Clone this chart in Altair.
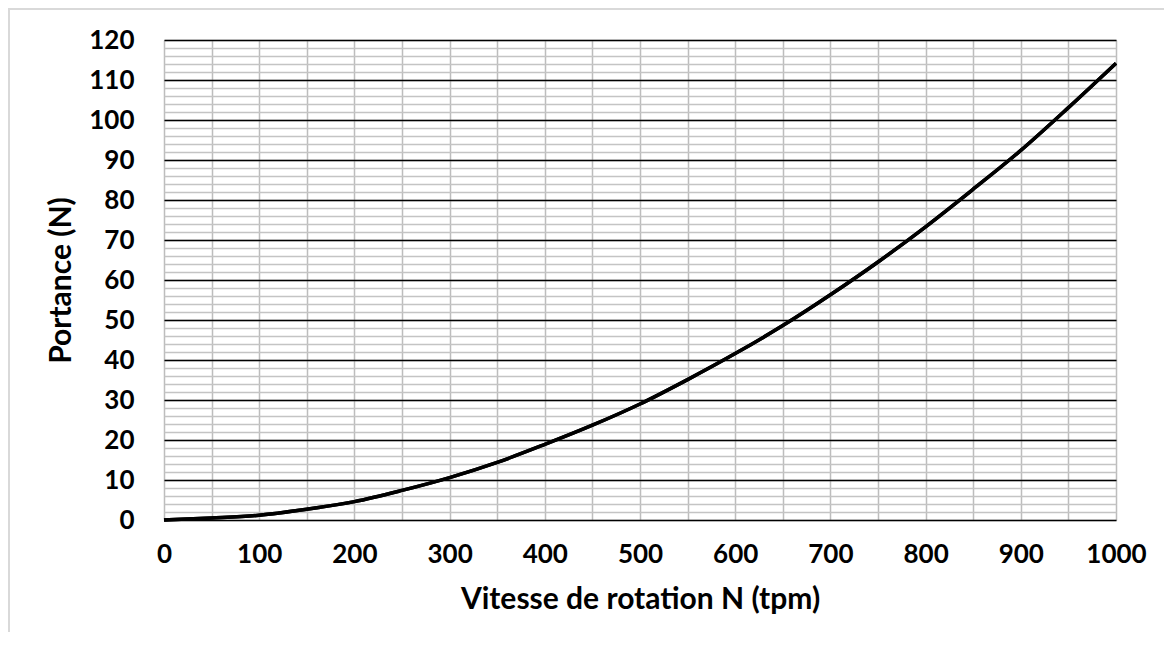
import altair as alt
import pandas as pd

# Data
vitesse = [0, 50, 100, 150, 200, 250, 300, 350, 400, 450, 500,
           550, 600, 650, 700, 750, 800, 850, 900, 950, 1000]
portance = [0.0, 0.5, 1.2, 2.7, 4.6, 7.4, 10.6, 14.4, 18.9, 23.7, 29.0,
            35.1, 41.6, 48.6, 56.3, 64.5, 73.3, 82.7, 92.4, 103.1, 114.2]

x_grid_values = list(range(0, 1001, 50))
y_minor_values = list(range(0, 121, 2))
y_major_values = list(range(0, 121, 10))

x_title = "Vitesse de rotation N (tpm)"
y_title = "Portance (N)"

df = pd.DataFrame({"N": vitesse, "P": portance})

FONT = "Lato"
LSIZE = 26
TSIZE = 30

xenc = alt.X(
    "N:Q",
    scale=alt.Scale(domain=[0, 1000], nice=False, zero=True),
    axis=alt.Axis(
        values=x_grid_values,
        format="d",
        labelExpr="datum.value % 100 == 0 ? datum.label : ''",
        labelOverlap=False,
        labelFlush=False,
        grid=True, gridColor="#bdbdbd", gridWidth=1.5,
        ticks=False, domain=False,
        labelFont=FONT, labelFontSize=LSIZE, labelFontWeight="bold",
        labelColor="black", labelPadding=21,
        title=x_title, titleFont=FONT, titleFontSize=TSIZE,
        titleFontWeight="bold", titleColor="black", titlePadding=17,
    ),
)

yscale = alt.Scale(domain=[0, 120], nice=False, zero=True)

minor = alt.Chart(df).mark_line(color="black", strokeWidth=3.5, interpolate="monotone").encode(
    x=xenc,
    y=alt.Y("P:Q", scale=yscale, axis=alt.Axis(
        values=y_minor_values, orient="left", grid=True,
        gridColor="#c4c4c4", gridWidth=1.5,
        labels=False, ticks=False, domain=False, title=None)),
)

major = alt.Chart(df).mark_line(color="black", strokeWidth=3.5, interpolate="monotone").encode(
    x=xenc,
    y=alt.Y("P:Q", scale=yscale, axis=alt.Axis(
        values=y_major_values, orient="left", grid=True,
        gridColor="black", gridWidth=1.5,
        ticks=False, domain=False,
        labelFont=FONT, labelFontSize=LSIZE, labelFontWeight="bold",
        labelColor="black", labelPadding=30,
        title=y_title, titleFont=FONT, titleFontSize=TSIZE,
        titleFontWeight="bold", titleColor="black", titlePadding=12)),
)

frame = alt.Chart(alt.Data(values=[{}])).mark_rect(
    fill="transparent", stroke="#d9d9d9", strokeWidth=2
).encode(
    x=alt.value(-155), x2=alt.value(1200),
    y=alt.value(-31), y2=alt.value(800),
)

chart = alt.layer(frame, minor, major).resolve_axis(y="independent").properties(
    width=952, height=480,
    padding={"left": 156, "top": 32, "right": 48, "bottom": 112},
    autosize=alt.AutoSizeParams(type="none"),
).configure_view(stroke=None).configure(background="white")

chart.save("out.html", embed_options={"renderer": "svg", "actions": False})
